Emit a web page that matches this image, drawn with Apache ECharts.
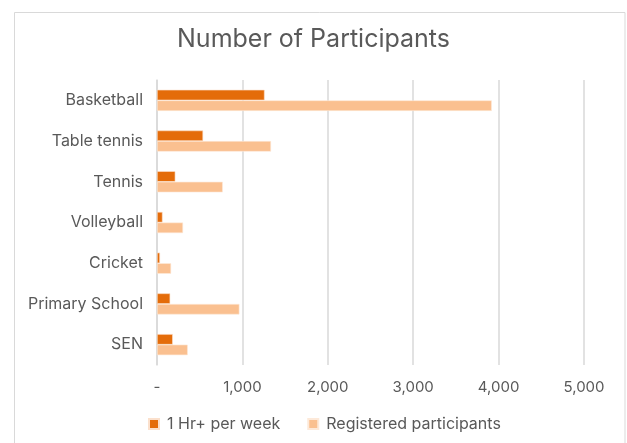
<!DOCTYPE html>
<html>
<head>
<meta charset="utf-8">
<script src="https://cdn.jsdelivr.net/npm/echarts@6/dist/echarts.min.js"></script>
<style>
  html, body { margin: 0; padding: 0; background: #ffffff; }
  #chart { width: 627px; height: 443px; }
</style>
</head>
<body>
<div id="chart"></div>
<script>
// Sports programme participation
const categories = ['Basketball', 'Table tennis', 'Tennis', 'Volleyball', 'Cricket', 'Primary School', 'SEN'];
const weeklyHour = [1260, 540, 215, 65, 35, 155, 185];
const registered = [3920, 1335, 770, 305, 165, 965, 360];
const xTicks = [0, 1000, 2000, 3000, 4000, 5000];

const FONT = 'Inter, "Noto Sans", sans-serif';
const TEXT = '#595959';

const chart = echarts.init(document.getElementById('chart'), null, { renderer: 'canvas' });

chart.setOption({
  backgroundColor: '#ffffff',
  animation: false,
  graphic: [{
    type: 'rect',
    shape: { x: 14.5, y: 12.5, width: 610.5, height: 440 },
    style: { fill: 'none', stroke: '#d9d9d9', lineWidth: 1 },
    silent: true
  }],
  title: {
    text: 'Number of Participants',
    left: 'center',
    top: 27,
    padding: 0,
    textStyle: { fontFamily: FONT, fontSize: 25, fontWeight: 'normal', color: TEXT }
  },
  legend: {
    left: 148,
    top: 416,
    padding: 0,
    itemWidth: 10,
    itemHeight: 10,
    itemGap: 27,
    icon: 'rect',
    textStyle: { fontFamily: FONT, fontSize: 16, color: TEXT, padding: [0, 0, 0, 3] },
    data: ['1 Hr+ per week', 'Registered participants']
  },
  grid: { left: 157, right: 43, top: 80, bottom: 78, containLabel: false },
  xAxis: {
    type: 'value',
    min: xTicks[0],
    max: xTicks[xTicks.length - 1],
    interval: 1000,
    axisLine: { show: false },
    axisTick: { show: false },
    splitLine: { lineStyle: { color: '#d9d9d9', width: 1.5 } },
    axisLabel: {
      margin: 15,
      fontFamily: FONT, fontSize: 15, color: TEXT,
      formatter: v => v === 0 ? '-' : v.toLocaleString('en-US')
    }
  },
  yAxis: {
    type: 'category',
    inverse: true,
    data: categories,
    axisLine: { show: true, lineStyle: { color: '#d9d9d9', width: 1.5 } },
    axisTick: { show: false },
    axisLabel: { margin: 14, fontFamily: FONT, fontSize: 16, color: TEXT }
  },
  series: [
    {
      name: '1 Hr+ per week',
      type: 'bar',
      data: weeklyHour,
      barGap: '0%',
      barCategoryGap: '48%',
      itemStyle: { color: '#e46c0a', borderColor: '#fbe0cc', borderWidth: 0.6 }
    },
    {
      name: 'Registered participants',
      type: 'bar',
      data: registered,
      barGap: '0%',
      barCategoryGap: '48%',
      itemStyle: { color: '#fac090', borderColor: '#fde9d9', borderWidth: 0.6 }
    }
  ]
});
</script>
</body>
</html>
